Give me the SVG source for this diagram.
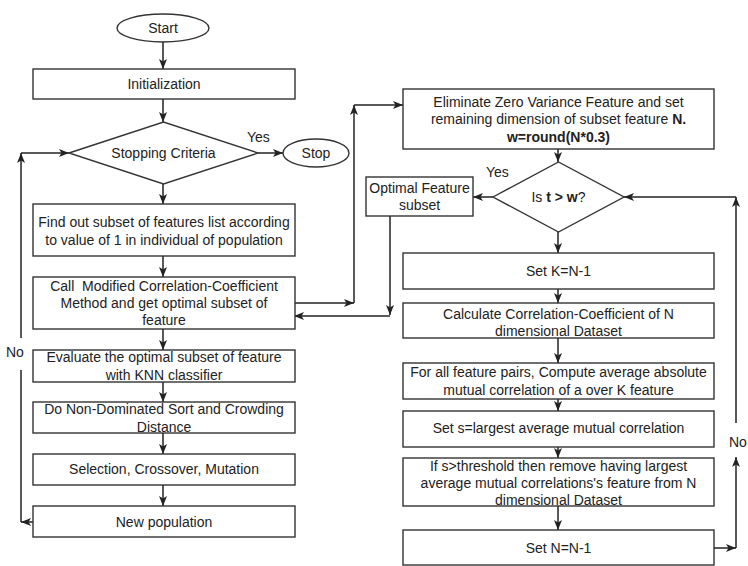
<svg xmlns="http://www.w3.org/2000/svg" width="748" height="566" viewBox="0 0 748 566">
<defs>
<marker id="ah" viewBox="0 0 10 8" refX="10" refY="4" markerWidth="10" markerHeight="8" markerUnits="userSpaceOnUse" orient="auto">
<path d="M0,0 L10,4 L0,8 L2.5,4 z" fill="#222"/>
</marker>
<style>
.n{fill:#fff;stroke:#333;stroke-width:1.4}
.t{font-family:"Liberation Sans",Arial,sans-serif;font-size:14px;fill:#222;text-anchor:middle}
.l{font-family:"Liberation Sans",Arial,sans-serif;font-size:14px;fill:#222}
.c{fill:none;stroke:#222;stroke-width:1.5}
.a{marker-end:url(#ah)}
</style>
</defs>
<rect width="748" height="566" fill="#fff"/>
<g id="connectors">
<path class="c a" d="M163,42 L163,69"/>
<path class="c a" d="M163,99 L163,122"/>
<path class="c a" d="M163,184 L163,204"/>
<path class="c a" d="M163,256 L163,277"/>
<path class="c a" d="M163,329 L163,350"/>
<path class="c a" d="M163,382 L163,402"/>
<path class="c a" d="M163,433 L163,454"/>
<path class="c a" d="M163,485 L163,506"/>
<path class="c a" d="M258,153 L283,153"/>
<path class="c a" d="M33,522 L21,522"/>
<path class="c" d="M21,522 L21,370"/>
<path class="c a" d="M21,338 L21,153"/>
<path class="c a" d="M21,153 L69,153"/>
<path class="c a" d="M294,303 L354,303"/>
<path class="c a" d="M354,303 L354,105"/>
<path class="c a" d="M354,105 L403,105"/>
<path class="c a" d="M558,149 L558,162"/>
<path class="c a" d="M493,197 L473,197"/>
<path class="c a" d="M390,216 L390,315"/>
<path class="c a" d="M390,316 L294,316"/>
<path class="c a" d="M558,232 L558,253"/>
<path class="c a" d="M558,289 L558,303"/>
<path class="c a" d="M558,338 L558,363"/>
<path class="c a" d="M558,399 L558,411"/>
<path class="c a" d="M558,447 L558,458"/>
<path class="c a" d="M558,506 L558,530"/>
<path class="c a" d="M714,548 L736,548"/>
<path class="c a" d="M736,548 L736,457"/>
<path class="c a" d="M736,423 L736,197"/>
<path class="c a" d="M736,197 L624,197"/>
<text class="l" x="247" y="142">Yes</text>
<text class="l" x="6" y="357">No</text>
<text class="l" x="486" y="177">Yes</text>
<text class="l" x="729" y="447">No</text>
</g>
<g id="start"><ellipse class="n" cx="163" cy="28" rx="46" ry="14"/><text class="t" x="163" y="33">Start</text></g>
<g id="init"><rect class="n" x="33" y="69" width="262" height="30"/><text class="t" x="164" y="89">Initialization</text></g>
<g id="stopping"><path class="n" d="M69,153 L163.5,122 L258,153 L163.5,184 Z"/><text class="t" x="163.5" y="158">Stopping Criteria</text></g>
<g id="stop"><ellipse class="n" cx="316" cy="153" rx="33" ry="14"/><text class="t" x="316" y="158">Stop</text></g>
<g id="findout"><rect class="n" x="33" y="204" width="262" height="52"/><text class="t" x="164" y="227">Find out subset of features list according</text><text class="t" x="164" y="245">to value of 1 in individual of population</text></g>
<g id="call"><rect class="n" x="33" y="277" width="262" height="52"/><text class="t" x="164" y="291" xml:space="preserve">Call  Modified Correlation-Coefficient</text><text class="t" x="164" y="308">Method and get optimal subset of</text><text class="t" x="164" y="325">feature</text></g>
<g id="evaluate"><rect class="n" x="33" y="350" width="262" height="32"/><text class="t" x="164" y="362">Evaluate the optimal subset of feature</text><text class="t" x="164" y="380">with KNN classifier</text></g>
<g id="sort"><rect class="n" x="33" y="402" width="262" height="31"/><text class="t" x="164" y="414">Do Non-Dominated Sort and Crowding</text><text class="t" x="164" y="432">Distance</text></g>
<g id="selection"><rect class="n" x="33" y="454" width="262" height="31"/><text class="t" x="164" y="474">Selection, Crossover, Mutation</text></g>
<g id="newpop"><rect class="n" x="33" y="506" width="262" height="31"/><text class="t" x="164" y="527">New population</text></g>
<g id="eliminate"><rect class="n" x="403" y="89" width="311" height="60"/><text class="t" x="558.5" y="107">Eliminate Zero Variance Feature and set</text><text class="t" x="558.5" y="124">remaining dimension of subset feature <tspan font-weight="bold">N.</tspan></text><text class="t" x="558.5" y="142" font-weight="bold">w=round(N*0.3)</text></g>
<g id="istw"><path class="n" d="M493,197 L558.5,162 L624,197 L558.5,232 Z"/><text class="t" x="558.5" y="202">Is <tspan font-weight="bold">t &gt; w</tspan>?</text></g>
<g id="optimal"><rect class="n" x="366" y="177" width="107" height="39"/><text class="t" x="419.5" y="193">Optimal Feature</text><text class="t" x="419.5" y="210">subset</text></g>
<g id="setk"><rect class="n" x="403" y="253" width="311" height="36"/><text class="t" x="558.5" y="276">Set K=N-1</text></g>
<g id="calc"><rect class="n" x="403" y="303" width="311" height="35"/><text class="t" x="558.5" y="319">Calculate Correlation-Coefficient of N</text><text class="t" x="558.5" y="336">dimensional Dataset</text></g>
<g id="forall"><rect class="n" x="403" y="363" width="311" height="36"/><text class="t" x="558.5" y="377">For all feature pairs, Compute average absolute</text><text class="t" x="558.5" y="395">mutual correlation of a over K feature</text></g>
<g id="sets"><rect class="n" x="403" y="411" width="311" height="36"/><text class="t" x="558.5" y="433">Set s=largest average mutual correlation</text></g>
<g id="ifs"><rect class="n" x="403" y="458" width="311" height="48"/><text class="t" x="558.5" y="471">If s&gt;threshold then remove having largest</text><text class="t" x="558.5" y="488">average mutual correlations's feature from N</text><text class="t" x="558.5" y="505">dimensional Dataset</text></g>
<g id="setn"><rect class="n" x="403" y="530" width="311" height="35"/><text class="t" x="558.5" y="553">Set N=N-1</text></g>
</svg>
